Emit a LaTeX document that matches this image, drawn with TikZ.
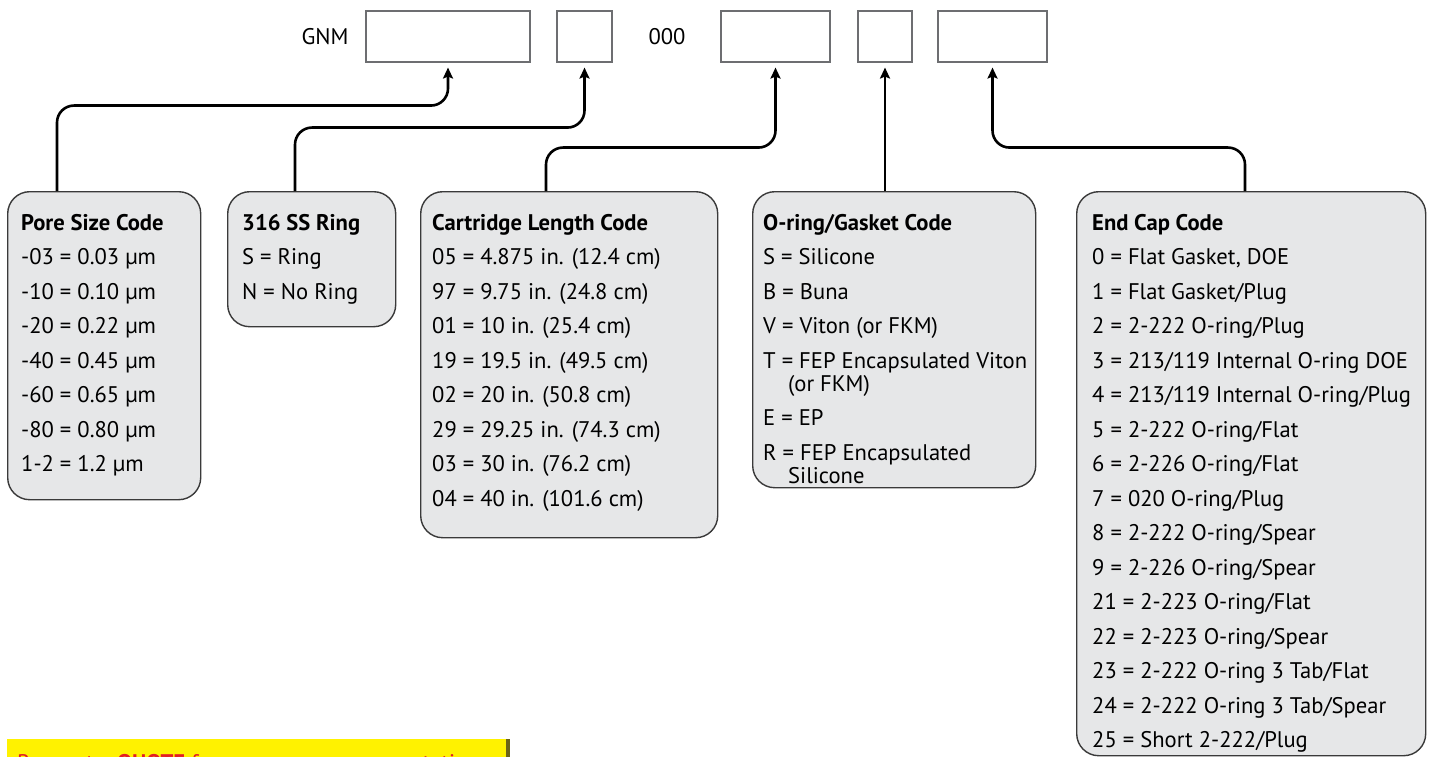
\documentclass[tikz,border=0pt]{standalone}
\usepackage{fontspec}
\setmainfont{PT Sans}
\usepackage{xcolor}
\usetikzlibrary{arrows.meta}

\definecolor{boxgray}{HTML}{E6E7E8}
\definecolor{edgegray}{HTML}{3A3A3A}
\definecolor{slotgray}{HTML}{6D6E71}
\definecolor{quoteyellow}{HTML}{FFF200}
\definecolor{quotered}{HTML}{E31E24}
\definecolor{quoteshade}{HTML}{6B6418}

\newcommand{\codelist}[1]{\begin{minipage}[t]{340pt}\fontsize{22.6}{34.5}\selectfont #1\end{minipage}}
\newcommand{\wrapline}{\\[-11.5pt]\hspace*{25pt}}

\begin{document}
\begin{tikzpicture}[x=1pt, y=-1pt,
    slot/.style={draw=slotgray, line width=1.1pt, fill=white, inner sep=0pt, minimum height=51pt},
    codebox/.style={draw=edgegray, line width=1.4pt, fill=boxgray, rounded corners=22pt,
      inner sep=0pt, anchor=north west},
    list/.style={anchor=base west, inner sep=0pt},
    conn/.style={line width=2.6pt, rounded corners=17pt, shorten >=5pt,
      -{Stealth[length=11pt,width=10pt,inset=2pt]}},
    word/.style={font=\fontsize{22.6}{26}\selectfont, inner sep=0pt}]
  \useasboundingbox (0,0) rectangle (1429,757);
  \clip (0,0) rectangle (1429,757);

  % part number row
  \node[word] (gnm) at (325,36.5) {GNM};
  \node[slot, minimum width=164pt] (s-pore) at (448,36.5) {};
  \node[slot, minimum width=55pt] (s-ring) at (584.5,36.5) {};
  \node[word] (zeros) at (667,36.5) {000};
  \node[slot, minimum width=109pt] (s-length) at (775.5,36.5) {};
  \node[slot, minimum width=54pt] (s-seal) at (885,36.5) {};
  \node[slot, minimum width=109pt] (s-cap) at (992.5,36.5) {};

  % code boxes
  \node[codebox, minimum width=193pt, minimum height=308pt] (pore) at (7,191) {};
  \node[codebox, minimum width=168pt, minimum height=135pt] (ring) at (227,191) {};
  \node[codebox, minimum width=297pt, minimum height=346pt] (length) at (420,191) {};
  \node[codebox, minimum width=283pt, minimum height=296pt] (seal) at (752,191) {};
  \node[codebox, minimum width=349pt, minimum height=564pt] (cap) at (1076,191) {};

  \node[list] (pore-text) at (21,230) {\codelist{\textbf{Pore Size Code}\\
    -03 = 0.03 µm\\ -10 = 0.10 µm\\ -20 = 0.22 µm\\ -40 = 0.45 µm\\
    -60 = 0.65 µm\\ -80 = 0.80 µm\\ 1-2 = 1.2 µm}};
  \node[list] (ring-text) at (242,230) {\codelist{\textbf{316 SS Ring}\\
    S = Ring\\ N = No Ring}};
  \node[list] (length-text) at (432,230) {\codelist{\textbf{Cartridge Length Code}\\
    05 = 4.875 in. (12.4 cm)\\ 97 = 9.75 in. (24.8 cm)\\ 01 = 10 in. (25.4 cm)\\
    19 = 19.5 in. (49.5 cm)\\ 02 = 20 in. (50.8 cm)\\ 29 = 29.25 in. (74.3 cm)\\
    03 = 30 in. (76.2 cm)\\ 04 = 40 in. (101.6 cm)}};
  \node[list] (seal-text) at (763,230) {\codelist{\textbf{O-ring/Gasket Code}\\
    S = Silicone\\ B = Buna\\ V = Viton (or FKM)\\
    T = FEP Encapsulated Viton\wrapline(or FKM)\\ E = EP\\
    R = FEP Encapsulated\wrapline Silicone}};
  \node[list] (cap-text) at (1092,230) {\codelist{\textbf{End Cap Code}\\
    0 = Flat Gasket, DOE\\ 1 = Flat Gasket/Plug\\ 2 = 2-222 O-ring/Plug\\
    3 = 213/119 Internal O-ring DOE\\ 4 = 213/119 Internal O-ring/Plug\\
    5 = 2-222 O-ring/Flat\\ 6 = 2-226 O-ring/Flat\\ 7 = 020 O-ring/Plug\\
    8 = 2-222 O-ring/Spear\\ 9 = 2-226 O-ring/Spear\\ 21 = 2-223 O-ring/Flat\\
    22 = 2-223 O-ring/Spear\\ 23 = 2-222 O-ring 3 Tab/Flat\\
    24 = 2-222 O-ring 3 Tab/Spear\\ 25 = Short 2-222/Plug}};

  % connectors
  \draw[conn] ([xshift=50pt]pore.north west) |- ([yshift=-43pt]s-pore.south) -- (s-pore.south);
  \draw[conn] ([xshift=68pt]ring.north west) |- ([yshift=-65pt]s-ring.south) -- (s-ring.south);
  \draw[conn] ([xshift=126pt]length.north west) |- ([yshift=-85pt]s-length.south) -- (s-length.south);
  \draw[conn] (seal.north -| s-seal.south) -- (s-seal.south);
  \draw[conn] ([xshift=169pt]cap.north west) |- ([yshift=-85pt]s-cap.south) -- (s-cap.south);

  % quote button
  \node[fill=quoteyellow, anchor=north west, inner sep=0pt,
    minimum width=503pt, minimum height=34pt] (quote) at (7,739) {};
  \fill[quoteshade] ([xshift=-4pt]quote.north east) rectangle (quote.south east);
  \node[anchor=base west, inner sep=0pt, text=quotered, font=\fontsize{22.6}{26}\selectfont]
    (quote-text) at (17,770) {Request a \textbf{QUOTE} from your area representative};
\end{tikzpicture}
\end{document}
